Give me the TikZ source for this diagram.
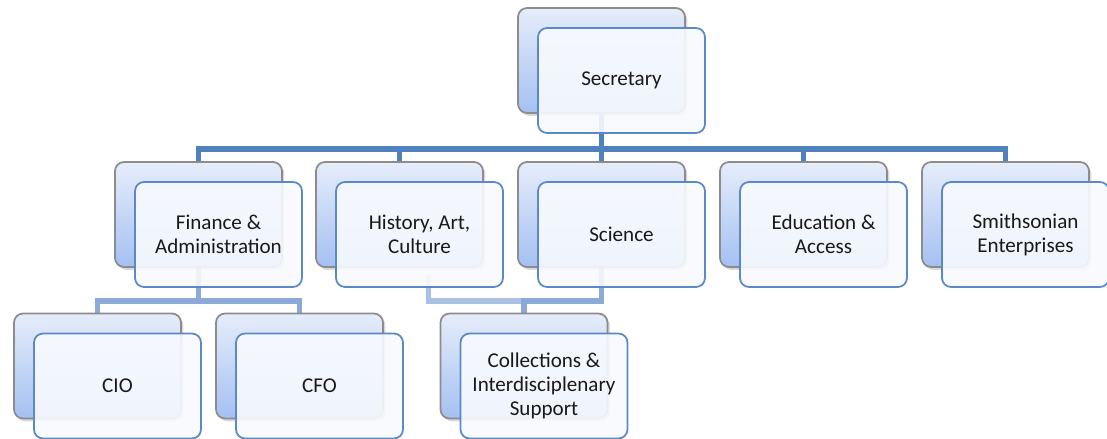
\documentclass[tikz,border=0pt]{standalone}
\usepackage{fontspec}
\setmainfont{Carlito}
\usetikzlibrary{positioning,shadows,backgrounds}
\definecolor{lineblue}{HTML}{4F81BD}
\definecolor{subblue}{HTML}{8DA9D8}
\definecolor{sublight}{HTML}{A9C0E4}
\definecolor{boxgray}{HTML}{8C8C8C}
\definecolor{backtop}{HTML}{E6EDFA}
\definecolor{backbot}{HTML}{A4C0F2}
\definecolor{frontline}{HTML}{5B88C6}
\definecolor{frontfill}{HTML}{F8FAFE}

\begin{document}
\begin{tikzpicture}[x=0.02cm,y=-0.02cm,
  card/.style={rounded corners=0.18cm,minimum width=3.34cm,minimum height=2.1cm,inner sep=0pt},
  backbox/.style={card,draw=boxgray,line width=1pt,top color=backtop,bottom color=backbot,
    drop shadow={shadow xshift=0.05cm,shadow yshift=-0.06cm,opacity=0.3}},
  frontbox/.style={card,draw=frontline,line width=1pt,fill=frontfill,fill opacity=0.9,text opacity=1,
    align=center,font=\fontsize{12}{13.6}\selectfont,text=black!90},
  mainline/.style={draw=lineblue,line width=3pt,line join=miter},
  subline/.style={draw=subblue,line width=3pt,line join=miter}]
\useasboundingbox (0,0) rectangle (1107,439);
\node[backbox] (sec-b) at (601.5,60.5) {};
\node[backbox] (fin-b) at (198.5,214.5) {};
\node[backbox] (his-b) at (399.5,214.5) {};
\node[backbox] (sci-b) at (601.5,214.5) {};
\node[backbox] (edu-b) at (803.5,214.5) {};
\node[backbox] (ent-b) at (1005.5,214.5) {};
\node[backbox] (cio-b) at (97.5,366) {};
\node[backbox] (cfo-b) at (299.5,366) {};
\node[backbox] (col-b) at (524,366) {};
\node[frontbox] (sec) at ([shift={(20,20)}]sec-b.center) {Secretary};
\node[frontbox] (fin) at ([shift={(20,20)}]fin-b.center) {Finance \&\\Administration};
\node[frontbox] (his) at ([shift={(20,20)}]his-b.center) {History, Art,\\Culture};
\node[frontbox] (sci) at ([shift={(20,20)}]sci-b.center) {Science};
\node[frontbox] (edu) at ([shift={(20,20)}]edu-b.center) {Education \&\\Access};
\node[frontbox] (ent) at ([shift={(20,20)}]ent-b.center) {Smithsonian\\Enterprises};
\node[frontbox] (cio) at ([shift={(20,20)}]cio-b.center) {CIO};
\node[frontbox] (cfo) at ([shift={(20,20)}]cfo-b.center) {CFO};
\node[frontbox] (col) at ([shift={(20,20)}]col-b.center) {Collections \&\\Interdisciplenary\\Support};
\coordinate (bus) at (601.5,149);
\coordinate (fbus) at (198.5,301);
\coordinate (cbus) at (524,301);
\coordinate (hout) at ([xshift=16.5,yshift=-4]his-b.south);
\begin{scope}[on background layer]
\draw[mainline] (sec-b.south) -- (bus);
\draw[mainline] (fin-b.north) |- (bus) -| (ent-b.north);
\draw[mainline] (his-b.north) -- (his-b.north |- bus);
\draw[mainline] (sci-b.north) -- (sci-b.north |- bus);
\draw[mainline] (edu-b.north) -- (edu-b.north |- bus);
\draw[subline] (fin-b.south) -- (fbus);
\draw[subline] (cio-b.north) |- (fbus) -| (cfo-b.north);
\draw[subline,draw=sublight] (hout) |- (cbus);
\draw[subline] (sci-b.south) |- (cbus) -- (col-b.north);
\end{scope}
\end{tikzpicture}
\end{document}
